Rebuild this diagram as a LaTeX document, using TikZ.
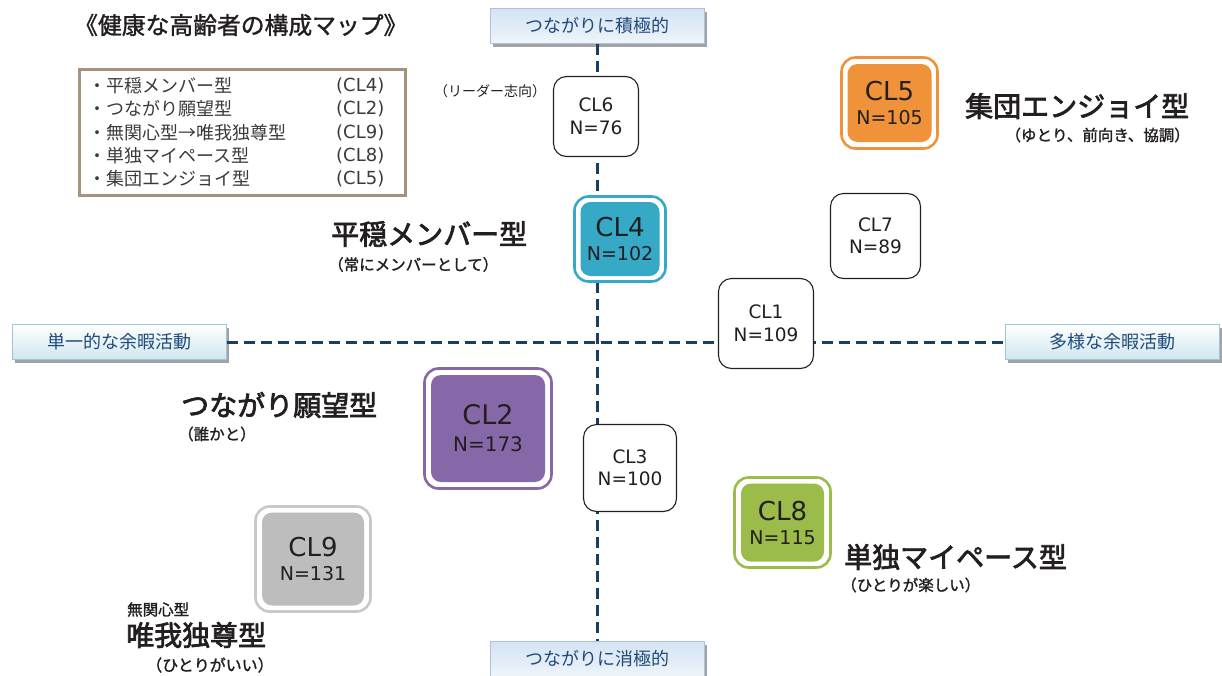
\documentclass[tikz,border=0pt]{standalone}
\usepackage{fontspec}
\setmainfont{Noto Sans CJK JP}
\newfontfamily\lat{DejaVu Sans}
\newfontfamily\medfont[FakeBold=2.6]{Noto Sans CJK JP}
\newfontfamily\subfont[FakeBold=1.6]{Noto Sans CJK JP}
\newfontfamily\titlefont[FakeBold=1.4]{Noto Sans CJK JP}
\usetikzlibrary{shadows}
\definecolor{ink}{HTML}{231F20}
\definecolor{axline}{HTML}{1B3D66}
\definecolor{axtext}{HTML}{1F4A7A}
\definecolor{axborder}{HTML}{9CC6DA}
\definecolor{axbordertb}{HTML}{A9C2DE}
\definecolor{legbrown}{HTML}{A6937E}
\definecolor{legtext}{HTML}{3A3A3A}
\definecolor{corange}{HTML}{F0923A}
\definecolor{cteal}{HTML}{36A9C6}
\definecolor{cpurple}{HTML}{8667A8}
\definecolor{cgreen}{HTML}{9BBB4A}
\definecolor{cgrayfill}{HTML}{BDBDBD}
\definecolor{cgrayline}{HTML}{C8C8C8}
\definecolor{hboxbot}{HTML}{CFE6EE}
\definecolor{vboxtop}{HTML}{D4E3F3}
\definecolor{vboxbot}{HTML}{EEF4FA}
\tikzset{
  axbox/.style={line width=1, minimum width=214, minimum height=35, inner sep=0,
    font=\fontsize{18}{18}\selectfont, text=axtext,
    drop shadow={shadow xshift=3pt, shadow yshift=-3pt, fill=black!40, opacity=0.9}},
  hbox/.style={axbox, draw=axborder, top color=white, bottom color=hboxbot},
  vbox/.style={axbox, draw=axbordertb, top color=vboxtop, bottom color=vboxbot},
  axisline/.style={draw=axline, line width=3, dash pattern=on 11pt off 6pt},
  wbox/.style={draw=ink, line width=1.1, fill=white, rounded corners=13, align=center,
    inner sep=0, text=ink, font=\lat\fontsize{18.5}{22.5}\selectfont},
  outerbox/.style={fill=white, line width=2.6, rounded corners=14, inner sep=0},
  innerbox/.style={rounded corners=10, inner sep=0, align=center, text=ink,
    font=\lat\fontsize{19}{24}\selectfont},
  typelabel/.style={font=\medfont\fontsize{28}{28}\selectfont, text=ink, inner sep=0},
  sublabel/.style={font=\subfont\fontsize{15.5}{15.5}\selectfont, text=ink, inner sep=0},
  legitem/.style={font=\fontsize{18}{18}\selectfont, text=legtext, inner sep=0, anchor=west},
  legcl/.style={font=\lat\fontsize{18}{18}\selectfont, text=legtext, inner sep=0, anchor=west}
}
\newcommand{\bigcl}{\lat\fontsize{26}{24}\selectfont}
\begin{document}
\begin{tikzpicture}[x=1pt,y=-1pt]
\useasboundingbox (0,0) rectangle (1222,675);

% title
\node[font=\titlefont\fontsize{23.8}{23.8}\selectfont, text=ink, inner sep=0, anchor=west] (title) at (74,25) {《健康な高齢者の構成マップ》};

% legend
\node[draw=legbrown, line width=2.8, minimum width=326, minimum height=126, inner sep=0] (legend) at (242.5,132.5) {};
\node[legitem] (li1) at (88,86) {・平穏メンバー型};
\node[legitem] (li2) at (88,109) {・つながり願望型};
\node[legitem] (li3) at (88,132.5) {・無関心型→唯我独尊型};
\node[legitem] (li4) at (88,156) {・単独マイペース型};
\node[legitem] (li5) at (88,179) {・集団エンジョイ型};
\node[legcl] (lc1) at (336,86) {(CL4)};
\node[legcl] (lc2) at (336,109) {(CL2)};
\node[legcl] (lc3) at (336,132.5) {(CL9)};
\node[legcl] (lc4) at (336,156) {(CL8)};
\node[legcl] (lc5) at (336,179) {(CL5)};

% axis labels
\node[vbox] (top) at (597,26) {つながりに積極的};
\node[vbox] (bottom) at (597,659) {つながりに消極的};
\node[hbox] (left) at (119,342) {単一的な余暇活動};
\node[hbox] (right) at (1112,342) {多様な余暇活動};

% axes
\draw[axisline] (top.south) -- (bottom.north);
\draw[axisline] (left.east) -- (right.west);

% white clusters
\node[wbox, minimum width=85, minimum height=80] (cl6) at (596,116.5) {CL6\\N=76};
\node[wbox, minimum width=90, minimum height=85] (cl7) at (875.5,236) {CL7\\N=89};
\node[wbox, minimum width=95, minimum height=90] (cl1) at (766,323.5) {CL1\\N=109};
\node[wbox, minimum width=93, minimum height=87] (cl3) at (630,468) {CL3\\N=100};

% coloured clusters
\node[outerbox, draw=corange, minimum width=96, minimum height=91] (cl5o) at (889.5,103) {};
\node[innerbox, fill=corange, minimum width=84, minimum height=78] (cl5) at (889.5,103) {{\bigcl CL5}\\N=105};

\node[outerbox, draw=cteal, minimum width=91, minimum height=85] (cl4o) at (620,239) {};
\node[innerbox, fill=cteal, minimum width=79, minimum height=74] (cl4) at (620,239) {{\bigcl CL4}\\N=102};

\node[outerbox, draw=cpurple, minimum width=127, minimum height=120] (cl2o) at (488,428.5) {};
\node[innerbox, fill=cpurple, minimum width=114, minimum height=107, font=\lat\fontsize{20}{27}\selectfont] (cl2) at (488,428.5) {{\lat\fontsize{27}{27}\selectfont CL2}\\N=173};

\node[outerbox, draw=cgrayline, minimum width=115, minimum height=105] (cl9o) at (313,559) {};
\node[innerbox, fill=cgrayfill, minimum width=102, minimum height=93] (cl9) at (313,559) {{\bigcl CL9}\\N=131};

\node[outerbox, draw=cgreen, minimum width=96, minimum height=90] (cl8o) at (782.5,522.5) {};
\node[innerbox, fill=cgreen, minimum width=83, minimum height=78] (cl8) at (782.5,522.5) {{\bigcl CL8}\\N=115};

% type labels
\node[typelabel, anchor=west] (t5) at (965,106) {集団エンジョイ型};
\node[sublabel, anchor=east] (s5) at (1190,135) {（ゆとり、前向き、協調）};

\node[typelabel, anchor=west] (t4) at (331,234) {平穏メンバー型};
\node[sublabel, anchor=west] (s4) at (328,264.5) {（常にメンバーとして）};

\node[typelabel, anchor=west] (t2) at (181,405) {つながり願望型};
\node[sublabel, anchor=west] (s2) at (178,434) {（誰かと）};

\node[sublabel, anchor=west] (t9a) at (127,609.5) {無関心型};
\node[typelabel, anchor=west] (t9) at (126,635) {唯我独尊型};
\node[sublabel, anchor=west, font=\subfont\fontsize{16}{16}\selectfont] (s9) at (146,665) {（ひとりがいい）};

\node[typelabel, anchor=west] (t8) at (844,557) {単独マイペース型};
\node[sublabel, anchor=west] (s8) at (841,585) {（ひとりが楽しい）};

\node[font=\fontsize{14}{14}\selectfont, text=ink, inner sep=0, anchor=west] (s6) at (434,91) {（リーダー志向）};
\end{tikzpicture}
\end{document}
